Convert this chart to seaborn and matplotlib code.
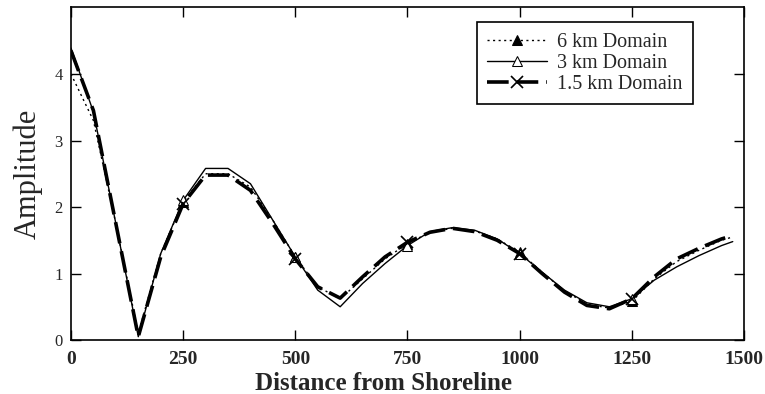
import matplotlib
matplotlib.use("Agg")
import matplotlib.pyplot as plt
import seaborn as sns
import numpy as np

distance = [0, 50, 100, 150, 200, 250, 300, 350, 400, 450, 500, 550, 600, 650, 700,
            750, 800, 850, 900, 950, 1000, 1050, 1100, 1150, 1200, 1250, 1300, 1350,
            1400, 1450, 1475]

amp_6km = [4.00, 3.30, 1.75, 0.10, 1.30, 2.08, 2.50, 2.50, 2.30, 1.80, 1.25, 0.80, 0.62,
           0.92, 1.22, 1.45, 1.62, 1.68, 1.64, 1.52, 1.32, 1.02, 0.74, 0.54, 0.48, 0.58,
           0.92, 1.18, 1.35, 1.50, 1.55]

amp_3km = [4.39, 3.43, 1.75, 0.05, 1.30, 2.10, 2.58, 2.58, 2.35, 1.80, 1.25, 0.75, 0.50,
           0.85, 1.15, 1.42, 1.63, 1.69, 1.65, 1.52, 1.30, 1.02, 0.75, 0.56, 0.50, 0.62,
           0.90, 1.10, 1.27, 1.42, 1.48]

amp_15km = [4.35, 3.45, 1.75, 0.05, 1.25, 2.05, 2.48, 2.48, 2.25, 1.75, 1.22, 0.80, 0.63,
            0.95, 1.25, 1.47, 1.62, 1.68, 1.63, 1.50, 1.30, 1.00, 0.72, 0.52, 0.47, 0.62,
            0.95, 1.22, 1.38, 1.52, 1.57]

labels = ["6 km Domain", "3 km Domain", "1.5 km Domain"]
x_ticks = [0, 250, 500, 750, 1000, 1250, 1500]
y_ticks = [0, 1, 2, 3, 4]

sns.set_style("ticks")
plt.rcParams['font.family'] = ['Liberation Serif', 'DejaVu Serif']

fig = plt.figure(figsize=(7.65, 3.94), dpi=100)
ax = fig.add_axes([0.0928, 0.137, 0.8797, 0.844])

mark_idx = [5, 10, 15, 20, 25]

sns.lineplot(x=distance, y=amp_6km, ax=ax, color="black", lw=1.0,
             linestyle=(0, (1.5, 2.5)), marker="^", markersize=7,
             markerfacecolor="black", markeredgecolor="black",
             markevery=mark_idx, label=labels[0])
sns.lineplot(x=distance, y=amp_3km, ax=ax, color="black", lw=1.0,
             linestyle="-", marker="^", markersize=7,
             markerfacecolor="white", markeredgecolor="black",
             markevery=mark_idx, label=labels[1])
sns.lineplot(x=distance, y=amp_15km, ax=ax, color="black", lw=2.6,
             linestyle=(0, (6, 2.2)), marker="x", markersize=8,
             markeredgewidth=1.2, markeredgecolor="black",
             markevery=mark_idx, label=labels[2])

ax.set_xlim(0, 1500)
ax.set_ylim(0, 5)
ax.set_xticks(x_ticks)
ax.set_yticks(y_ticks)
ax.set_xticklabels([str(v) for v in x_ticks], fontsize=14, fontweight="bold")
ax.set_yticklabels([str(v) for v in y_ticks], fontsize=12)
ax.tick_params(direction="in", top=True, right=True, length=7, width=1, color="black")
ax.tick_params(axis="x", pad=8)
ax.tick_params(axis="y", pad=6)
for sp in ax.spines.values():
    sp.set_visible(True)
    sp.set_color("black")
    sp.set_linewidth(1.2)

ax.set_xlabel("Distance from Shoreline", fontsize=18, fontweight="bold")
ax.xaxis.set_label_coords(0.464, -0.095)
ax.set_ylabel("Amplitude", fontsize=22, labelpad=8)

leg = ax.legend(loc="upper right", bbox_to_anchor=(0.924, 0.955), borderaxespad=0,
                fontsize=14.5, frameon=True, fancybox=False, edgecolor="black",
                framealpha=1, handlelength=3.0, labelspacing=0.1, borderpad=0.5,
                handletextpad=0.5)
leg.get_frame().set_linewidth(1.2)

fig.savefig("out.png", dpi=100)
